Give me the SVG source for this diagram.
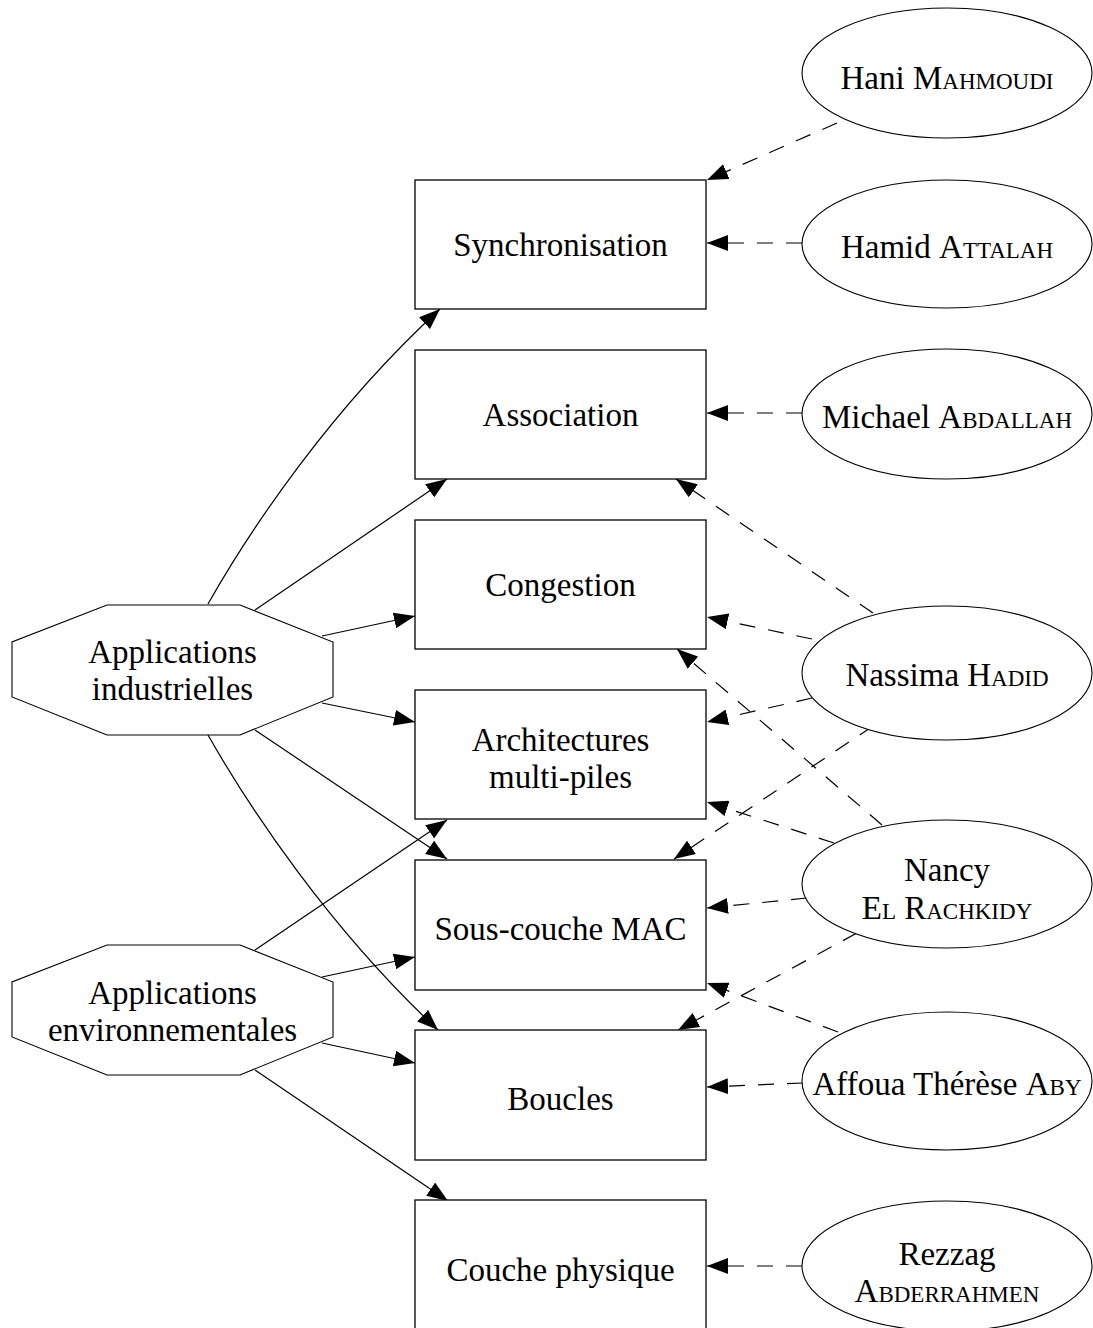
<svg xmlns="http://www.w3.org/2000/svg" width="1093" height="1328" viewBox="0 0 1093 1328">
<style>
.box{fill:#fff;stroke:#000;stroke-width:1.3}
.ell{fill:#fff;stroke:#000;stroke-width:1.1}
.oct{fill:#fff;stroke:#000;stroke-width:1.1}
.t{font-family:"Liberation Serif","Times New Roman",serif;font-size:33px;fill:#000;text-anchor:middle}
.sc{font-variant:small-caps}
.e{fill:none;stroke:#000;stroke-width:1.2;marker-end:url(#ah)}
.d{fill:none;stroke:#000;stroke-width:1.2;stroke-dasharray:16 13;marker-end:url(#ah)}
</style>
<defs>
<marker id="ah" viewBox="0 0 21 16" refX="21" refY="8" markerWidth="21" markerHeight="16" markerUnits="userSpaceOnUse" orient="auto">
<path d="M0,0 L21,8 L0,16 z" fill="#000"/>
</marker>
</defs>
<rect width="1093" height="1328" fill="#fff"/>
<g id="connectors">
<path class="e" d="M208,604 C250,530 330,410 440,309"/>
<path class="e" d="M255,610 L447,479"/>
<path class="e" d="M322,636 L415,616"/>
<path class="e" d="M322,703 L415,722"/>
<path class="e" d="M255,730 L447,859"/>
<path class="e" d="M208,735 C250,809 330,929 438,1030"/>
<path class="e" d="M255,950 L447,820"/>
<path class="e" d="M322,977 L415,957"/>
<path class="e" d="M322,1043 L415,1063"/>
<path class="e" d="M255,1070 L448,1201"/>
<path class="d" d="M837,123 L707,180"/>
<path class="d" d="M802,243 L707,243"/>
<path class="d" d="M802,413 L707,413"/>
<path class="d" d="M873,613 L676,479"/>
<path class="d" d="M812,639 L707,617"/>
<path class="d" d="M812,698 L707,722"/>
<path class="d" d="M873,726 L674,859"/>
<path class="d" d="M882,825 L677,649"/>
<path class="d" d="M834,843 L707,802"/>
<path class="d" d="M807,898 L707,908"/>
<path class="d" d="M857,933 L678,1030"/>
<path class="d" d="M838,1032 L707,983"/>
<path class="d" d="M803,1083 L707,1087"/>
<path class="d" d="M802,1266 L707,1266"/>
</g>
<g id="n_sync"><rect class="box" x="415" y="180" width="291" height="129"/><text class="t" x="560.5" y="256">Synchronisation</text></g>
<g id="n_assoc"><rect class="box" x="415" y="350" width="291" height="129"/><text class="t" x="560.5" y="426">Association</text></g>
<g id="n_cong"><rect class="box" x="415" y="520" width="291" height="129"/><text class="t" x="560.5" y="596">Congestion</text></g>
<g id="n_arch"><rect class="box" x="415" y="690" width="291" height="129"/><text class="t" x="560.5" y="751">Architectures</text><text class="t" x="560.5" y="788">multi-piles</text></g>
<g id="n_mac"><rect class="box" x="415" y="860" width="291" height="130"/><text class="t" x="560.5" y="940">Sous-couche MAC</text></g>
<g id="n_boucles"><rect class="box" x="415" y="1030" width="291" height="130"/><text class="t" x="560.5" y="1110">Boucles</text></g>
<g id="n_phy"><rect class="box" x="415" y="1200" width="291" height="130"/><text class="t" x="560.5" y="1281">Couche physique</text></g>
<g id="n_indus"><polygon class="oct" points="107,605 240,605 333,642 333,697 240,735 107,735 12,697 12,642"/><text class="t" x="172.5" y="663">Applications</text><text class="t" x="172.5" y="700">industrielles</text></g>
<g id="n_env"><polygon class="oct" points="107,945 240,945 333,982 333,1037 240,1075 107,1075 12,1037 12,982"/><text class="t" x="172.5" y="1004">Applications</text><text class="t" x="172.5" y="1041">environnementales</text></g>
<g id="p_mahmoudi"><ellipse class="ell" cx="947" cy="73" rx="145" ry="65"/><text class="t" x="947" y="89">Hani <tspan class="sc">Mahmoudi</tspan></text></g>
<g id="p_attalah"><ellipse class="ell" cx="947" cy="244" rx="145" ry="64"/><text class="t" x="947" y="258">Hamid <tspan class="sc">Attalah</tspan></text></g>
<g id="p_abdallah"><ellipse class="ell" cx="947" cy="414" rx="145" ry="65"/><text class="t" x="947" y="428">Michael <tspan class="sc">Abdallah</tspan></text></g>
<g id="p_hadid"><ellipse class="ell" cx="947" cy="673" rx="145" ry="67"/><text class="t" x="947" y="686">Nassima <tspan class="sc">Hadid</tspan></text></g>
<g id="p_rachkidy"><ellipse class="ell" cx="947" cy="884" rx="145" ry="64"/><text class="t" x="947" y="881">Nancy</text><text class="t sc" x="947" y="919">El Rachkidy</text></g>
<g id="p_aby"><ellipse class="ell" cx="947" cy="1081" rx="145" ry="69"/><text class="t" x="947" y="1095">Affoua Thérèse <tspan class="sc">Aby</tspan></text></g>
<g id="p_abderrahmen"><ellipse class="ell" cx="947" cy="1266" rx="145" ry="65"/><text class="t" x="947" y="1265">Rezzag</text><text class="t sc" x="947" y="1302">Abderrahmen</text></g>
</svg>
